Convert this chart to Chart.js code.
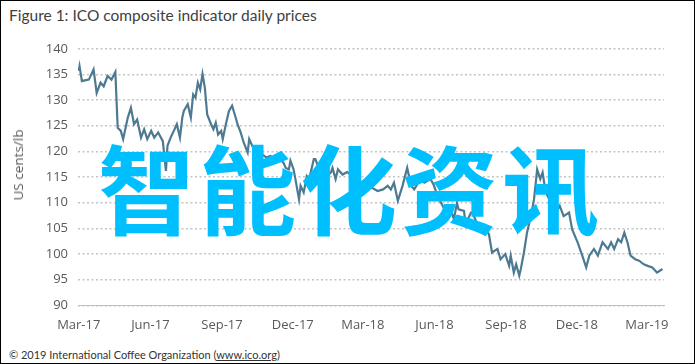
<!DOCTYPE html>
<html lang="en">
<head>
  <meta charset="UTF-8" />
  <title>ICO composite indicator daily prices</title>
  <script src="https://cdn.jsdelivr.net/npm/chart.js"></script>
  <style>
    html,body{margin:0;padding:0;background:#fff;}
    #frame{position:relative;width:693px;height:362px;border:1px solid #000;overflow:hidden;}
    #title{position:absolute;left:8px;top:5px;font:15.5px Lato, "Open Sans", sans-serif;color:#404040;}
    #footer{position:absolute;left:8px;top:347px;font:11px Lato, "Open Sans", sans-serif;color:#333;}
    #footer u{text-decoration:underline;}
    #box{position:absolute;left:0;top:30px;width:693px;height:306px;}
    #ytitle{position:absolute;left:17px;top:164px;transform:translate(-50%,-50%) rotate(-90deg);font:13.5px "Open Sans", Lato, sans-serif;color:#595959;white-space:nowrap;}
    #mark{position:absolute;left:97px;top:135px;font:bold 97px "Noto Sans CJK SC", sans-serif;color:#00bfff;letter-spacing:4px;line-height:1;white-space:nowrap;}
  </style>
</head>
<body>
<div id="frame">
  <div id="title">Figure 1: ICO composite indicator daily prices</div>
  <div id="box"><canvas id="chart"></canvas></div>
  <div id="ytitle">US cents/lb</div>
  <div id="mark">智能化资讯</div>
  <div id="footer">© 2019 International Coffee Organization (<u>www.ico.org</u>)</div>
</div>
<script>
  // daily prices (US cents/lb)
  const dates = [
    '2017-03-01','2017-03-02','2017-03-05','2017-03-10','2017-03-14','2017-03-20','2017-03-24','2017-03-29',
    '2017-04-02','2017-04-07','2017-04-12','2017-04-17','2017-04-20','2017-04-24','2017-04-27',
    '2017-05-03','2017-05-07','2017-05-11','2017-05-15','2017-05-20','2017-05-24','2017-05-28',
    '2017-06-02','2017-06-06','2017-06-11','2017-06-17','2017-06-21','2017-06-23','2017-06-27',
    '2017-07-02','2017-07-05','2017-07-09','2017-07-12','2017-07-14','2017-07-19','2017-07-23','2017-07-26','2017-07-29',
    '2017-08-01','2017-08-04','2017-08-07','2017-08-10','2017-08-13','2017-08-18','2017-08-21','2017-08-24','2017-08-27','2017-08-31',
    '2017-09-02','2017-09-06','2017-09-10','2017-09-14','2017-09-18','2017-09-21','2017-09-25','2017-09-29',
    '2017-10-04','2017-10-06','2017-10-12','2017-10-17','2017-10-23','2017-10-28',
    '2017-11-02','2017-11-09','2017-11-16','2017-11-19','2017-11-22','2017-11-26','2017-11-28',
    '2017-12-02','2017-12-04','2017-12-09','2017-12-11','2017-12-15','2017-12-19','2017-12-22','2017-12-28','2017-12-30',
    '2018-01-04','2018-01-10','2018-01-19','2018-01-21','2018-01-25','2018-01-28',
    '2018-02-03','2018-02-09','2018-02-13','2018-02-20','2018-02-26',
    '2018-03-05','2018-03-12','2018-03-20','2018-03-27',
    '2018-04-02','2018-04-06','2018-04-10','2018-04-15','2018-04-21','2018-04-27',
    '2018-05-02','2018-05-06','2018-05-10','2018-05-14','2018-05-19','2018-05-27','2018-05-31',
    '2018-06-05','2018-06-14','2018-06-22','2018-06-26','2018-06-30',
    '2018-07-02','2018-07-09','2018-07-11','2018-07-18','2018-07-20','2018-07-26',
    '2018-08-03','2018-08-10','2018-08-14','2018-08-21','2018-08-25','2018-08-31',
    '2018-09-05','2018-09-07','2018-09-11','2018-09-14','2018-09-18','2018-09-20','2018-09-24','2018-09-28',
    '2018-10-03','2018-10-07','2018-10-11','2018-10-15','2018-10-18','2018-10-22','2018-10-29',
    '2018-11-04','2018-11-09','2018-11-14','2018-11-21','2018-11-25',
    '2018-12-02','2018-12-08','2018-12-13','2018-12-17','2018-12-23','2018-12-28',
    '2019-01-03','2019-01-10','2019-01-14','2019-01-18','2019-01-23','2019-01-27','2019-01-31',
    '2019-02-04','2019-02-08','2019-02-14','2019-02-19','2019-02-25',
    '2019-03-02','2019-03-08','2019-03-14','2019-03-21'
  ];
  const prices = [
    135.7,136.6,133.7,133.9,134.0,136.0,131.4,133.4,
    132.7,134.7,134.0,135.5,124.6,124.0,122.4,
    126.6,128.5,125.3,126.2,122.7,124.3,122.4,
    124.0,122.7,123.7,122.0,116.2,121.1,122.7,
    124.3,125.3,122.7,126.6,127.9,129.2,126.6,131.1,130.5,
    133.4,132.1,135.1,132.4,127.2,125.3,124.3,125.6,123.3,124.0,
    122.4,125.3,127.9,128.9,126.9,125.3,123.7,121.7,
    119.8,122.4,120.4,120.7,119.4,118.8,
    119.1,118.5,118.2,117.8,116.8,116.5,118.2,
    116.5,114.9,110.7,113.3,112.0,115.2,114.6,118.5,118.5,
    116.5,114.5,115.9,116.8,114.6,116.5,
    115.5,116.0,115.5,114.6,113.9,
    114.5,113.0,112.3,112.6,
    113.3,112.6,113.9,110.4,113.3,116.8,
    113.3,112.6,113.6,114.6,113.9,114.6,113.5,
    111.3,108.7,108.7,106.8,110.0,
    108.7,108.4,105.8,108.1,108.1,105.8,
    105.2,103.9,100.3,101.0,99.0,100.0,
    97.7,99.7,96.4,98.0,95.8,97.1,100.3,104.2,
    107.4,110.7,116.5,114.6,115.9,112.0,110.0,
    108.1,109.4,107.4,108.1,104.8,
    102.3,99.7,97.4,99.7,101.0,99.7,
    102.3,101.0,102.3,101.0,102.9,102.3,104.2,
    102.3,99.7,99.0,98.7,98.0,
    97.7,97.4,96.4,97.1
  ];
  const tickDates = ['2017-03-01','2017-06-01','2017-09-01','2017-12-01','2018-03-01','2018-06-01','2018-09-01','2018-12-01','2019-03-01'];
  const tickLabels = ['Mar-17','Jun-17','Sep-17','Dec-17','Mar-18','Jun-18','Sep-18','Dec-18','Mar-19'];

  const start = Date.UTC(2017, 2, 1);
  const dayOf = s => { const p = s.split('-'); return (Date.UTC(+p[0], p[1] - 1, +p[2]) - start) / 86400000; };
  const tickDays = tickDates.map(dayOf);
  const points = dates.map((d, i) => ({x: dayOf(d), y: prices[i]}));

  const font = {family: '"Open Sans", Lato, sans-serif', size: 13};

  new Chart(document.getElementById('chart'), {
    type: 'line',
    data: {datasets: [{data: points, borderColor: '#4d7a91', borderWidth: 2.2, pointRadius: 0, tension: 0, fill: false}]},
    options: {
      responsive: true, maintainAspectRatio: false, animation: false,
      layout: {padding: {left: 12, right: 30, top: 1, bottom: 0}},
      plugins: {legend: {display: false}, tooltip: {enabled: false}},
      scales: {
        x: {
          type: 'linear', min: -1, max: 752,
          afterBuildTicks: s => { s.ticks = tickDays.map(v => ({value: v})); },
          ticks: {callback: (v) => tickLabels[tickDays.indexOf(v)], color: '#595959', font: font, maxRotation: 0, autoSkip: false, padding: 4},
          grid: {display: false},
          border: {display: true, color: '#bfbfbf', width: 1}
        },
        y: {
          min: 90, max: 140,
          afterFit: s => { s.width = 65; },
          ticks: {stepSize: 5, color: '#595959', font: font, padding: 10},
          grid: {color: '#c4c4c4', lineWidth: 1.5, drawTicks: false},
          border: {display: false, dash: [2, 2.5]}
        }
      }
    }
  });
</script>
</body>
</html>
